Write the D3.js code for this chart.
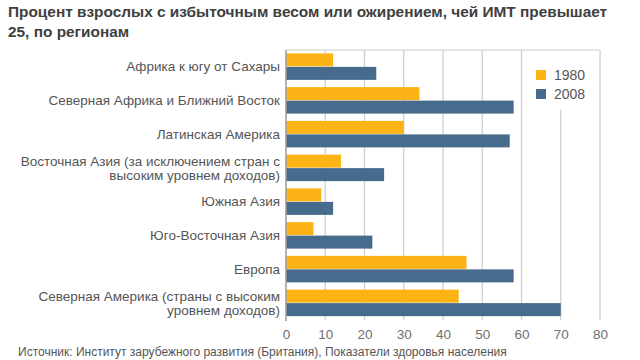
<!DOCTYPE html>
<html><head><meta charset="utf-8">
<script src="https://cdn.jsdelivr.net/npm/d3@7"></script>
<style>body{margin:0;background:#fff;font-family:"Liberation Sans",Arial,sans-serif;}</style>
</head><body><svg id="c" width="640" height="360"></svg>
<script>
const categories = [
  ["Африка к югу от Сахары"],
  ["Северная Африка и Ближний Восток"],
  ["Латинская Америка"],
  ["Восточная Азия (за исключением стран с", "высоким уровнем доходов)"],
  ["Южная Азия"],
  ["Юго-Восточная Азия"],
  ["Европа"],
  ["Северная Америка (страны с высоким", "уровнем доходов)"]
];
const series = ["1980", "2008"];
const values1980 = [12, 34, 30, 14, 9, 7, 46, 44];
const values2008 = [23, 58, 57, 25, 12, 22, 58, 70];
const xTicks = [0, 10, 20, 30, 40, 50, 60, 70, 80];
const colors = ["#fbb316", "#466b8c"];
const titleLines = ["Процент взрослых с избыточным весом или ожирением, чей ИМТ превышает", "25, по регионам"];
const source = "Источник: Институт зарубежного развития (Британия), Показатели здоровья населения";

const svg = d3.select("#c");
const m = {l: 286, r: 600, t: 50, b: 320};
const x = d3.scaleLinear().domain([0, 80]).range([m.l, m.r]);
const y = d3.scaleBand().domain(d3.range(categories.length)).range([m.t, m.b]).paddingInner(0.2).paddingOuter(0.1);
const sub = d3.scaleBand().domain(series).range([0, y.bandwidth()]);

// title
svg.append("g").selectAll("text").data(titleLines).join("text")
  .attr("x", 8).attr("y", (d, i) => 17 + i * 20)
  .attr("font-size", 15.4).attr("font-weight", "bold").attr("fill", "#404040").text(d => d);

// grid
svg.append("g").selectAll("line").data(xTicks.slice(1)).join("line")
  .attr("x1", d => x(d)).attr("x2", d => x(d)).attr("y1", m.t).attr("y2", m.b)
  .attr("stroke", "#cfcfcf").attr("stroke-width", 1.3);
svg.append("line").attr("x1", m.l).attr("x2", m.r).attr("y1", m.t).attr("y2", m.t)
  .attr("stroke", "#dcdcdc").attr("stroke-width", 1.3);

// legend box (white, covering grid)
svg.append("rect").attr("x", 527).attr("y", m.t + 1).attr("width", 72).attr("height", 59).attr("fill", "#fff");

// bars
const data = [values1980, values2008];
series.forEach((s, si) => {
  svg.append("g").selectAll("rect").data(data[si]).join("rect")
    .attr("x", x(0)).attr("y", (d, i) => y(i) + sub(s))
    .attr("width", d => x(d) - x(0)).attr("height", sub.bandwidth() - 0.5)
    .attr("fill", colors[si]);
});

// left axis line
svg.append("line").attr("x1", m.l).attr("x2", m.l).attr("y1", m.t).attr("y2", m.b + 1)
  .attr("stroke", "#9a9a9a").attr("stroke-width", 1.5);

// x axis
const xa = svg.append("g").attr("transform", `translate(0,${m.b})`)
  .call(d3.axisBottom(x).tickValues(xTicks).tickSize(0).tickPadding(9));
xa.select(".domain").remove();
xa.selectAll("text").attr("font-size", 13.5).attr("fill", "#707070").attr("font-family", "Liberation Sans, Arial, sans-serif");

// category labels
const lab = svg.append("g").selectAll("text").data(categories).join("text")
  .attr("text-anchor", "end").attr("font-size", 13.5).attr("fill", "#555");
lab.each(function(lines, i) {
  const cy = y(i) + y.bandwidth() / 2;
  const t = d3.select(this);
  lines.forEach((ln, j) => {
    t.append("tspan").attr("x", 280)
      .attr("y", cy + 4.5 + (j - (lines.length - 1) / 2) * 14).text(ln);
  });
});

// legend
const lg = svg.append("g").selectAll("g").data(series).join("g")
  .attr("transform", (d, i) => `translate(536,${70 + i * 19})`);
lg.append("rect").attr("width", 10).attr("height", 10).attr("fill", (d, i) => colors[i]);
lg.append("text").attr("x", 18).attr("y", 10).attr("font-size", 14).attr("fill", "#555").text(d => d);

// source
svg.append("text").attr("x", 18).attr("y", 356).attr("font-size", 12).attr("fill", "#555").text(source);
</script></body></html>
